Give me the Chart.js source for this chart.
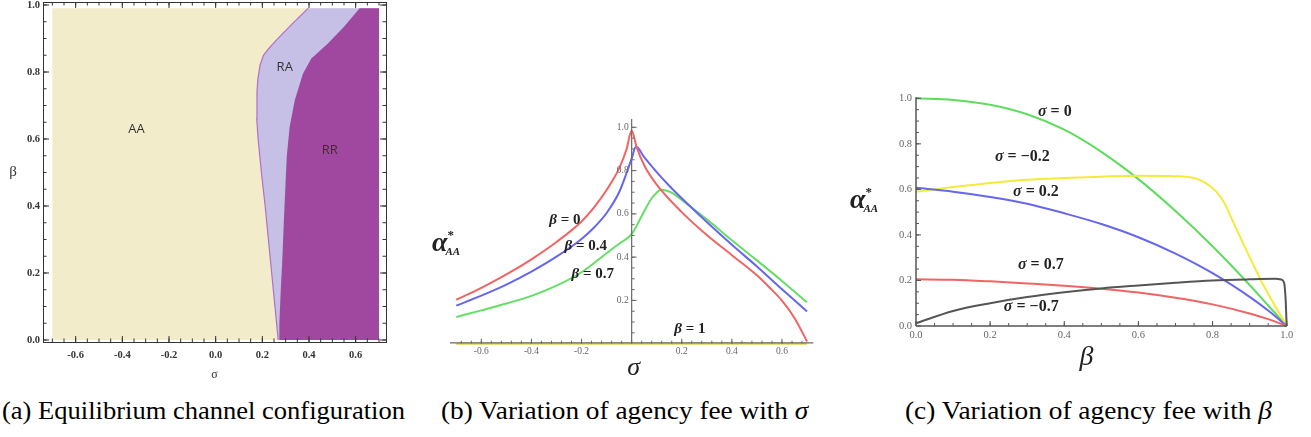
<!DOCTYPE html>
<html>
<head>
<meta charset="utf-8">
<script src="https://cdn.jsdelivr.net/npm/chart.js@4.4.0/dist/chart.umd.min.js"></script>
<style>
    html, body { margin: 0; padding: 0; background: #fff; }
    body { width: 1311px; height: 437px; position: relative; overflow: hidden; }
    canvas { position: absolute; top: 0; }
    .cap {
        position: absolute;
        top: 397px;
        font-family: "Liberation Serif", serif;
        font-size: 26px;
        line-height: 28px;
        white-space: nowrap;
        transform-origin: 0 0;
        color: #000;
    }
</style>
</head>
<body>
<canvas id="chartA" width="400" height="390" style="left:0px"></canvas>
<canvas id="chartB" width="410" height="390" style="left:420px"></canvas>
<canvas id="chartC" width="481" height="390" style="left:830px"></canvas>
<div class="cap" data-width="403" style="left:2px">(a) Equilibrium channel configuration</div>
<div class="cap" data-width="367" style="left:441px">(b) Variation of agency fee with <i>σ</i></div>
<div class="cap" data-width="367" style="left:905px">(c) Variation of agency fee with <i>β</i></div>
<script>
// ---------- (a) equilibrium channel configuration
const aXTicks = [-0.6, -0.4, -0.2, 0.0, 0.2, 0.4, 0.6];
const aXTickLabels = ["-0.6", "-0.4", "-0.2", "0.0", "0.2", "0.4", "0.6"];
const aYTicks = [0, 0.2, 0.4, 0.6, 0.8, 1.0];
const aYTickLabels = ["0.0", "0.2", "0.4", "0.6", "0.8", "1.0"];
const sigmaRange = [-0.7, 0.7];
const betaRange = [0, 0.99];
// AA | RA boundary, bottom to top
const raEdgeSigma = [0.268, 0.254, 0.240, 0.226, 0.212, 0.196, 0.182, 0.176, 0.177, 0.181, 0.19, 0.205, 0.225, 0.26, 0.33, 0.396];
const raEdgeBeta = [0, 0.1, 0.2, 0.3, 0.4, 0.5, 0.6, 0.66, 0.74, 0.78, 0.82, 0.85, 0.868, 0.895, 0.945, 0.99];
// RA | RR boundary, bottom to top
const rrEdgeSigma = [0.272, 0.273, 0.279, 0.285, 0.292, 0.300, 0.305, 0.317, 0.339, 0.374, 0.41, 0.481, 0.55, 0.617];
const rrEdgeBeta = [0, 0.05, 0.15, 0.23, 0.35, 0.476, 0.55, 0.636, 0.716, 0.795, 0.84, 0.885, 0.935, 0.99];

// ---------- (b) agency fee vs sigma
const bXTicks = [-0.6, -0.4, -0.2, 0.2, 0.4, 0.6];
const bXTickLabels = ["-0.6", "-0.4", "-0.2", "0.2", "0.4", "0.6"];
const bYTicks = [0.2, 0.4, 0.6, 0.8, 1.0];
const bYTickLabels = ["0.2", "0.4", "0.6", "0.8", "1.0"];
const beta0Sigma = [-0.7, -0.6, -0.5, -0.4, -0.3, -0.2, -0.15, -0.1, -0.05, -0.02, 0, 0.02, 0.05, 0.1, 0.2, 0.3, 0.4, 0.5, 0.55, 0.6, 0.65, 0.7];
const beta0Alpha = [0.203, 0.258, 0.32, 0.39, 0.47, 0.565, 0.63, 0.71, 0.81, 0.9, 0.985, 0.908, 0.825, 0.735, 0.608, 0.502, 0.409, 0.316, 0.26, 0.199, 0.119, 0.01];
const beta04Sigma = [-0.7, -0.6, -0.5, -0.4, -0.3, -0.2, -0.15, -0.1, -0.05, -0.02, 0, 0.0175, 0.05, 0.1, 0.15, 0.2, 0.3, 0.4, 0.5, 0.6, 0.7];
const beta04Alpha = [0.176, 0.222, 0.273, 0.333, 0.402, 0.484, 0.537, 0.604, 0.70, 0.79, 0.855, 0.911, 0.862, 0.793, 0.73, 0.672, 0.562, 0.457, 0.357, 0.252, 0.149];
const beta07Sigma = [-0.7, -0.6, -0.5, -0.4, -0.3, -0.2, -0.1, -0.05, -0.02, 0, 0.02, 0.04, 0.08, 0.1, 0.117, 0.14, 0.163, 0.2, 0.3, 0.4, 0.5, 0.6, 0.7];
const beta07Alpha = [0.123, 0.154, 0.186, 0.221, 0.268, 0.33, 0.418, 0.462, 0.485, 0.507, 0.545, 0.59, 0.672, 0.698, 0.711, 0.707, 0.696, 0.664, 0.575, 0.478, 0.385, 0.29, 0.191];
const beta1Sigma = [-0.7, 0.7];
const beta1Alpha = [0, 0];

// ---------- (c) agency fee vs beta
const cXTicks = [0, 0.2, 0.4, 0.6, 0.8, 1.0];
const cXTickLabels = ["0.0", "0.2", "0.4", "0.6", "0.8", "1.0"];
const cYTicks = [0, 0.2, 0.4, 0.6, 0.8, 1.0];
const cYTickLabels = ["0.0", "0.2", "0.4", "0.6", "0.8", "1.0"];
const cBeta = [0, 0.1, 0.2, 0.3, 0.4, 0.5, 0.6, 0.7, 0.8, 0.9, 0.95, 1.0];
const sigma0Alpha = [1.0, 0.993, 0.972, 0.93, 0.862, 0.765, 0.645, 0.505, 0.35, 0.18, 0.09, 0];
const sigma02Alpha = [0.607, 0.59, 0.567, 0.537, 0.495, 0.448, 0.39, 0.318, 0.232, 0.128, 0.068, 0];
const sigma07Alpha = [0.205, 0.203, 0.196, 0.187, 0.177, 0.164, 0.147, 0.124, 0.095, 0.055, 0.03, 0];
const sigmaM02Beta = [0, 0.1, 0.2, 0.3, 0.4, 0.5, 0.6, 0.7, 0.75, 0.78, 0.8, 0.81, 0.83, 0.856, 0.892, 0.937, 1.0];
const sigmaM02Alpha = [0.59, 0.61, 0.628, 0.642, 0.65, 0.656, 0.66, 0.658, 0.65, 0.63, 0.605, 0.59, 0.546, 0.455, 0.33, 0.18, 0];
const sigmaM07Beta = [0, 0.1, 0.2, 0.3, 0.4, 0.5, 0.6, 0.7, 0.8, 0.9, 0.97, 0.985, 0.993, 0.997, 0.999, 1.0];
const sigmaM07Alpha = [0.012, 0.066, 0.1, 0.127, 0.148, 0.165, 0.178, 0.19, 0.2, 0.205, 0.207, 0.204, 0.19, 0.12, 0.04, 0];

const zip = (xs, ys) => xs.map((x, i) => ({ x, y: ys[i] }));
const steps = (from, to, step) => {
    const out = [];
    for (let v = from; v <= to + 1e-9; v += step) out.push(Math.round(v * 1000) / 1000);
    return out;
};

const SERIF = '"Liberation Serif", serif';

const text = (ctx, str, px, py, font, align, color) => {
    ctx.font = font;
    ctx.textAlign = align || "center";
    ctx.textBaseline = "middle";
    ctx.fillStyle = color || "#222";
    ctx.fillText(str, px, py);
};

// "β = 0" style label: symbol italic, rest upright
const mathLabel = (ctx, sym, rest, px, py, size) => {
    ctx.textAlign = "left";
    ctx.textBaseline = "middle";
    ctx.fillStyle = "#222";
    ctx.font = `italic bold ${size}px ${SERIF}`;
    ctx.fillText(sym, px, py);
    const w = ctx.measureText(sym).width;
    ctx.font = `bold ${size}px ${SERIF}`;
    ctx.fillText(rest, px + w, py);
};

const alphaLabel = (ctx, px, py) => {
    ctx.textAlign = "left";
    ctx.textBaseline = "alphabetic";
    ctx.fillStyle = "#222";
    ctx.font = `italic bold 28px ${SERIF}`;
    ctx.fillText("α", px, py);
    const w = ctx.measureText("α").width;
    ctx.font = `bold 13px ${SERIF}`;
    ctx.fillText("*", px + w, py - 12);
    ctx.font = `italic bold 11px ${SERIF}`;
    ctx.fillText("AA", px + w - 2, py + 4);
};

const tickLines = (ctx, scale, values, fixed, len, horizontal) => {
    ctx.beginPath();
    values.forEach((v) => {
        const p = scale.getPixelForValue(v);
        if (horizontal) {
            ctx.moveTo(p, fixed);
            ctx.lineTo(p, fixed + len);
        } else {
            ctx.moveTo(fixed, p);
            ctx.lineTo(fixed + len, p);
        }
    });
    ctx.stroke();
};

const baseOptions = (xMin, xMax, yMin, yMax, padding) => ({
    responsive: false,
    animation: false,
    events: [],
    layout: { padding },
    plugins: { legend: { display: false }, tooltip: { enabled: false } },
    scales: {
        x: { type: "linear", min: xMin, max: xMax, display: false },
        y: { type: "linear", min: yMin, max: yMax, display: false },
    },
    elements: { point: { radius: 0 } },
});

const curve = (data, color, order) => ({
    data,
    showLine: true,
    borderColor: color,
    borderWidth: 2,
    pointRadius: 0,
    cubicInterpolationMode: "monotone",
    clip: false,
    fill: false,
    order,
});

// ---------- chart (a)
const [sMin, sMax] = sigmaRange;
const [bMin, bMax] = betaRange;
const aaShape = [{ x: sMin, y: bMin }, { x: sMin, y: bMax }, { x: sMax, y: bMax }, { x: sMax, y: bMin }];
const raEdge = zip(raEdgeSigma, raEdgeBeta);
const raShape = [...raEdge, { x: sMax, y: bMax }, { x: sMax, y: bMin }];
const rrShape = [...zip(rrEdgeSigma, rrEdgeBeta), { x: sMax, y: bMax }, { x: sMax, y: bMin }];

const region = (data, color, order) => ({
    data,
    showLine: true,
    borderWidth: 0,
    borderColor: color,
    backgroundColor: color,
    pointRadius: 0,
    fill: "shape",
    order,
});

const framePluginA = {
    id: "frameA",
    afterDraw(chart) {
        const { ctx, chartArea: a, scales: { x, y } } = chart;
        ctx.save();
        ctx.strokeStyle = "#333";
        ctx.lineWidth = 1;
        ctx.strokeRect(a.left + 0.5, a.top + 0.5, a.right - a.left, a.bottom - a.top);
        const xMinor = steps(-0.7, 0.7, 0.05);
        const yMinor = steps(0, 1, 0.05);
        tickLines(ctx, x, aXTicks, a.bottom, -6, true);
        tickLines(ctx, x, aXTicks, a.top, 6, true);
        tickLines(ctx, x, xMinor, a.bottom, -3.5, true);
        tickLines(ctx, x, xMinor, a.top, 3.5, true);
        tickLines(ctx, y, aYTicks, a.left, 6, false);
        tickLines(ctx, y, aYTicks, a.right, -6, false);
        tickLines(ctx, y, yMinor, a.left, 3.5, false);
        tickLines(ctx, y, yMinor, a.right, -3.5, false);
        aXTicks.forEach((v, i) =>
            text(ctx, aXTickLabels[i], x.getPixelForValue(v), a.bottom + 13, `bold 10.5px ${SERIF}`, "center", "#333")
        );
        aYTicks.forEach((v, i) =>
            text(ctx, aYTickLabels[i], a.left - 3, y.getPixelForValue(v), `bold 10.5px ${SERIF}`, "right", "#333")
        );
        text(ctx, "σ", (a.left + a.right) / 2, a.bottom + 33, `12px ${SERIF}`, "center", "#333");
        text(ctx, "β", 13, (a.top + a.bottom) / 2, `15px ${SERIF}`, "center", "#333");
        const sans = '13px "Open Sans", sans-serif';
        text(ctx, "AA", x.getPixelForValue(-0.339), y.getPixelForValue(0.629), sans, "center", "#333");
        text(ctx, "RA", x.getPixelForValue(0.296), y.getPixelForValue(0.814), sans, "center", "#333");
        text(ctx, "RR", x.getPixelForValue(0.489), y.getPixelForValue(0.566), sans, "center", "#333");
        ctx.restore();
    },
};

new Chart(document.getElementById("chartA"), {
    type: "scatter",
    data: {
        datasets: [
            { data: raEdge, showLine: true, borderColor: "#b070c8", borderWidth: 1.2, pointRadius: 0, fill: false, order: 0 },
            region(rrShape, "#a048a0", 1),
            region(raShape, "#c6bfe6", 2),
            region(aaShape, "#f3ecca", 3),
        ],
    },
    options: baseOptions(-0.74, 0.73, -0.006, 1.009, { left: 43, top: 2, right: 14, bottom: 48 }),
    plugins: [framePluginA],
});

// ---------- chart (b)
const axesPluginB = {
    id: "axesB",
    afterDatasetsDraw(chart) {
        const { ctx, chartArea: a, scales: { x, y } } = chart;
        const x0 = x.getPixelForValue(0);
        const y0 = y.getPixelForValue(0);
        ctx.save();
        ctx.strokeStyle = "#6a6a6a";
        ctx.lineWidth = 1.2;
        ctx.beginPath();
        ctx.moveTo(a.left, y0 - 0.8);
        ctx.lineTo(a.right, y0 - 0.8);
        ctx.moveTo(x0, y0);
        ctx.lineTo(x0, a.top - 4);
        ctx.stroke();
        ctx.lineWidth = 1;
        tickLines(ctx, x, bXTicks, y0, -5, true);
        tickLines(ctx, x, steps(-0.68, 0.68, 0.04), y0, -3, true);
        tickLines(ctx, y, bYTicks, x0, 5, false);
        tickLines(ctx, y, steps(0.05, 1.0, 0.05), x0, 3, false);
        bXTicks.forEach((v, i) =>
            text(ctx, bXTickLabels[i], x.getPixelForValue(v), y0 + 8, `9.5px ${SERIF}`, "center", "#666")
        );
        bYTicks.forEach((v, i) =>
            text(ctx, bYTickLabels[i], x0 - 3, y.getPixelForValue(v), `9.5px ${SERIF}`, "right", "#666")
        );
        text(ctx, "σ", x0 + 2, y0 + 24, `italic 26px ${SERIF}`, "center", "#222");
        alphaLabel(ctx, a.left - 18, y.getPixelForValue(0.43));
        mathLabel(ctx, "β", " = 0", x.getPixelForValue(-0.329), y.getPixelForValue(0.573), 15);
        mathLabel(ctx, "β", " = 0.4", x.getPixelForValue(-0.268), y.getPixelForValue(0.449), 15);
        mathLabel(ctx, "β", " = 0.7", x.getPixelForValue(-0.24), y.getPixelForValue(0.323), 15);
        mathLabel(ctx, "β", " = 1", x.getPixelForValue(0.17), y.getPixelForValue(0.065), 15);
        ctx.restore();
    },
};

new Chart(document.getElementById("chartB"), {
    type: "scatter",
    data: {
        datasets: [
            curve(zip(beta0Sigma, beta0Alpha), "#f06464", 1),
            curve(zip(beta04Sigma, beta04Alpha), "#6666ee", 2),
            curve(zip(beta07Sigma, beta07Alpha), "#66dd66", 3),
            curve(zip(beta1Sigma, beta1Alpha), "#e0d64a", 4),
        ],
    },
    options: baseOptions(-0.725, 0.725, -0.02, 1.02, { left: 30, top: 123, right: 16.7, bottom: 42 }),
    plugins: [axesPluginB],
});

// ---------- chart (c)
const axesPluginC = {
    id: "axesC",
    afterDatasetsDraw(chart) {
        const { ctx, chartArea: a, scales: { x, y } } = chart;
        const x0 = x.getPixelForValue(0);
        const y0 = y.getPixelForValue(0);
        ctx.save();
        ctx.strokeStyle = "#555";
        ctx.lineWidth = 1.5;
        ctx.beginPath();
        ctx.moveTo(x0, y0);
        ctx.lineTo(a.right, y0);
        ctx.moveTo(x0, y0);
        ctx.lineTo(x0, a.top - 1);
        ctx.stroke();
        ctx.lineWidth = 1;
        tickLines(ctx, x, cXTicks, y0, -5, true);
        tickLines(ctx, x, steps(0.05, 1, 0.05), y0, -3, true);
        tickLines(ctx, y, cYTicks, x0, 5, false);
        tickLines(ctx, y, steps(0.05, 1, 0.05), x0, 3, false);
        cXTicks.forEach((v, i) =>
            text(ctx, cXTickLabels[i], x.getPixelForValue(v), y0 + 9, `10.5px ${SERIF}`, "center", "#666")
        );
        cYTicks.forEach((v, i) =>
            text(ctx, cYTickLabels[i], x0 - 4, y.getPixelForValue(v), `10.5px ${SERIF}`, "right", "#666")
        );
        text(ctx, "β", x.getPixelForValue(0.46), y0 + 32, `italic 28px ${SERIF}`, "center", "#222");
        alphaLabel(ctx, x0 - 66, y.getPixelForValue(0.52));
        mathLabel(ctx, "σ", " = 0", x.getPixelForValue(0.329), y.getPixelForValue(0.94), 16);
        mathLabel(ctx, "σ", " = \u22120.2", x.getPixelForValue(0.213), y.getPixelForValue(0.742), 16);
        mathLabel(ctx, "σ", " = 0.2", x.getPixelForValue(0.262), y.getPixelForValue(0.588), 16);
        mathLabel(ctx, "σ", " = 0.7", x.getPixelForValue(0.275), y.getPixelForValue(0.268), 16);
        mathLabel(ctx, "σ", " = \u22120.7", x.getPixelForValue(0.237), y.getPixelForValue(0.083), 16);
        ctx.restore();
    },
};

new Chart(document.getElementById("chartC"), {
    type: "scatter",
    data: {
        datasets: [
            curve(zip(sigmaM07Beta, sigmaM07Alpha), "#555555", 1),
            curve(zip(cBeta, sigma07Alpha), "#f06464", 2),
            curve(zip(cBeta, sigma02Alpha), "#6666ee", 3),
            curve(zip(sigmaM02Beta, sigmaM02Alpha), "#f4ea3c", 4),
            curve(zip(cBeta, sigma0Alpha), "#5fdc5f", 5),
        ],
    },
    options: baseOptions(0, 1, 0, 1, { left: 86, top: 98.3, right: 24.3, bottom: 64 }),
    plugins: [axesPluginC],
});

// fit captions to the widths of the original
document.querySelectorAll(".cap").forEach((el) => {
    const target = Number(el.dataset.width);
    el.style.transform = `scaleX(${target / el.offsetWidth})`;
});
</script>
</body>
</html>
